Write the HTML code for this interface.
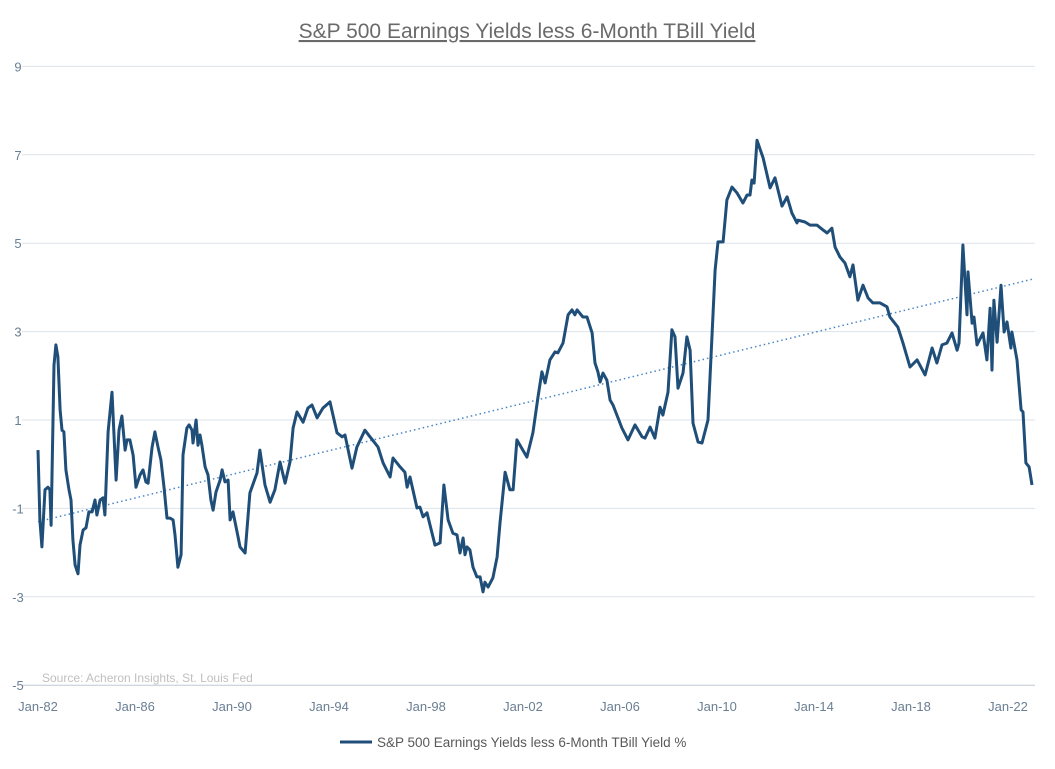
<!DOCTYPE html>
<html><head><meta charset="utf-8"><style>
body{margin:0;background:#fff;width:1055px;height:769px;overflow:hidden;font-family:"Liberation Sans",sans-serif;}
svg{display:block}
</style></head><body>
<svg id="chart" width="1055" height="769">
<text x="527" y="38" text-anchor="middle" font-size="21" fill="#6a6a6a" text-decoration="underline">S&amp;P 500 Earnings Yields less 6-Month TBill Yield</text>
<g id="grid"></g><g id="yticks"></g><g id="xticks"></g>
<text x="42" y="682" font-size="12" fill="#bfbfbf">Source: Acheron Insights, St. Louis Fed</text>
<path id="trend" fill="none" stroke="#4a86c5" stroke-width="1.5" stroke-dasharray="1.5,3"/>
<path id="series" fill="none" stroke="#1f4e79" stroke-width="3" stroke-linejoin="round"/>
<g>
<line x1="340" y1="742" x2="372" y2="742" stroke="#1f4e79" stroke-width="3"/>
<text x="377" y="747" font-size="13.5" fill="#595959">S&amp;P 500 Earnings Yields less 6-Month TBill Yield %</text>
</g>
</svg>
<script>
const years=[1982.00,1982.08,1982.16,1982.29,1982.41,1982.49,1982.54,1982.66,1982.74,1982.82,1982.91,1982.99,1983.07,1983.15,1983.28,1983.36,1983.44,1983.53,1983.65,1983.73,1983.86,1983.98,1984.10,1984.23,1984.35,1984.43,1984.56,1984.68,1984.76,1984.89,1985.05,1985.22,1985.34,1985.46,1985.59,1985.67,1985.79,1985.92,1986.04,1986.21,1986.33,1986.45,1986.54,1986.70,1986.82,1986.95,1987.07,1987.20,1987.32,1987.44,1987.57,1987.65,1987.77,1987.90,1987.98,1988.14,1988.23,1988.35,1988.39,1988.52,1988.60,1988.68,1988.76,1988.89,1989.01,1989.13,1989.22,1989.34,1989.51,1989.59,1989.71,1989.84,1989.92,1990.04,1990.25,1990.33,1990.54,1990.74,1991.03,1991.15,1991.36,1991.57,1991.77,1991.98,1992.19,1992.39,1992.52,1992.68,1992.93,1993.13,1993.30,1993.51,1993.75,1994.04,1994.33,1994.54,1994.66,1994.95,1995.15,1995.48,1995.69,1996.02,1996.23,1996.52,1996.64,1996.93,1997.13,1997.22,1997.34,1997.63,1997.75,1997.88,1998.04,1998.37,1998.58,1998.74,1998.91,1999.11,1999.28,1999.40,1999.53,1999.61,1999.69,1999.81,1999.94,2000.10,2000.23,2000.35,2000.43,2000.56,2000.76,2000.93,2001.05,2001.26,2001.46,2001.59,2001.75,2002.16,2002.41,2002.62,2002.78,2002.91,2003.11,2003.32,2003.44,2003.65,2003.86,2004.02,2004.14,2004.23,2004.47,2004.64,2004.85,2004.97,2005.09,2005.18,2005.30,2005.46,2005.59,2005.71,2006.08,2006.33,2006.62,2006.91,2007.03,2007.24,2007.44,2007.65,2007.77,2007.98,2008.14,2008.27,2008.39,2008.60,2008.76,2008.89,2009.01,2009.22,2009.38,2009.63,2009.92,2010.04,2010.25,2010.41,2010.62,2010.82,2011.07,2011.24,2011.36,2011.44,2011.53,2011.65,2011.90,2012.19,2012.39,2012.68,2012.89,2013.09,2013.30,2013.34,2013.63,2013.84,2014.12,2014.37,2014.54,2014.74,2014.87,2015.07,2015.28,2015.48,2015.61,2015.81,2016.02,2016.23,2016.43,2016.72,2017.01,2017.13,2017.46,2017.67,2017.96,2018.25,2018.58,2018.87,2019.07,2019.28,2019.48,2019.69,2019.90,2019.98,2020.14,2020.31,2020.35,2020.52,2020.60,2020.72,2020.97,2021.13,2021.26,2021.34,2021.42,2021.55,2021.71,2021.84,2021.96,2022.12,2022.16,2022.37,2022.54,2022.62,2022.74,2022.87,2022.99];
const values=[0.32,-1.26,-1.87,-0.58,-0.52,-0.58,-1.38,2.24,2.70,2.43,1.23,0.77,0.73,-0.13,-0.58,-0.81,-1.71,-2.28,-2.48,-1.83,-1.49,-1.44,-1.08,-1.08,-0.81,-1.15,-0.81,-0.76,-1.15,0.73,1.63,-0.36,0.77,1.09,0.32,0.55,0.55,0.21,-0.52,-0.24,-0.13,-0.40,-0.43,0.37,0.73,0.39,0.10,-0.54,-1.22,-1.22,-1.26,-1.60,-2.33,-2.05,0.21,0.82,0.89,0.77,0.48,1.00,0.43,0.66,0.43,-0.06,-0.24,-0.81,-1.04,-0.63,-0.36,-0.13,-0.40,-0.36,-1.26,-1.08,-1.65,-1.87,-2.01,-0.65,-0.20,0.32,-0.47,-0.86,-0.58,0.05,-0.43,0.05,0.82,1.18,0.95,1.27,1.34,1.05,1.27,1.41,0.71,0.62,0.66,-0.09,0.39,0.77,0.62,0.39,0.03,-0.29,0.14,-0.06,-0.18,-0.52,-0.29,-0.99,-0.97,-1.19,-1.10,-1.83,-1.78,-0.47,-1.26,-1.56,-1.60,-2.01,-1.67,-2.05,-1.87,-1.94,-2.33,-2.55,-2.55,-2.89,-2.67,-2.78,-2.57,-2.10,-1.33,-0.18,-0.58,-0.58,0.55,0.16,0.71,1.52,2.09,1.84,2.36,2.54,2.52,2.74,3.38,3.49,3.38,3.49,3.33,3.33,2.97,2.29,2.09,1.86,2.06,1.90,1.45,1.34,0.82,0.55,0.89,0.62,0.59,0.84,0.59,1.29,1.11,1.63,3.04,2.88,1.72,2.06,2.88,2.58,0.93,0.50,0.48,1.00,4.39,5.03,5.03,5.98,6.27,6.14,5.91,6.09,6.09,6.43,6.36,7.33,6.93,6.25,6.48,5.84,6.05,5.68,5.46,5.52,5.48,5.41,5.41,5.30,5.23,5.34,4.91,4.69,4.55,4.24,4.51,3.71,4.05,3.76,3.65,3.65,3.56,3.33,3.10,2.74,2.20,2.36,2.02,2.63,2.29,2.70,2.74,2.97,2.58,2.74,4.96,3.38,4.35,3.19,3.33,2.70,2.97,2.36,3.53,2.13,3.71,2.76,4.05,2.99,3.22,2.63,2.99,2.36,1.23,1.18,0.03,-0.06,-0.47];
const trendYears=[1982,2023.1];
const trendValues=[-1.3,4.2];
const yTicks=[9,7,5,3,1,-1,-3,-5];
const xTickYears=[1982,1986,1990,1994,1998,2002,2006,2010,2014,2018,2022];
const xTickLabels=["Jan-82","Jan-86","Jan-90","Jan-94","Jan-98","Jan-02","Jan-06","Jan-10","Jan-14","Jan-18","Jan-22"];

const NS="http://www.w3.org/2000/svg";
const X=t=>38+(t-1982)*24.25;
const Y=v=>420-(v-1)*44.2;
function mk(tag,attrs,parent,txt){const e=document.createElementNS(NS,tag);for(const k in attrs)e.setAttribute(k,attrs[k]);if(txt!==undefined)e.textContent=txt;document.getElementById(parent).appendChild(e);return e;}
yTicks.forEach(v=>{
  const l=mk('line',{x1:22,x2:1035,y1:Y(v),y2:Y(v),stroke:v===-5?'#bfc9d4':'#dde3ea','stroke-width':1},'grid');
  
  
  const t=mk('text',{x:18,y:Y(v)+5,'font-size':13,fill:'#6a7f93','text-anchor':'middle'},'yticks',String(v));
  
  
});
xTickYears.forEach((yr,i)=>{
  const t=mk('text',{x:X(yr),y:711,'font-size':13,fill:'#6a7f93','text-anchor':'middle'},'xticks',xTickLabels[i]);
  
  
});
document.getElementById('series').setAttribute('d',years.map((t,i)=>(i?'L':'M')+X(t).toFixed(1)+' '+Y(values[i]).toFixed(1)).join(' '));
document.getElementById('trend').setAttribute('d',trendYears.map((t,i)=>(i?'L':'M')+X(t).toFixed(1)+' '+Y(trendValues[i]).toFixed(1)).join(' '));
</script>
</body></html>
